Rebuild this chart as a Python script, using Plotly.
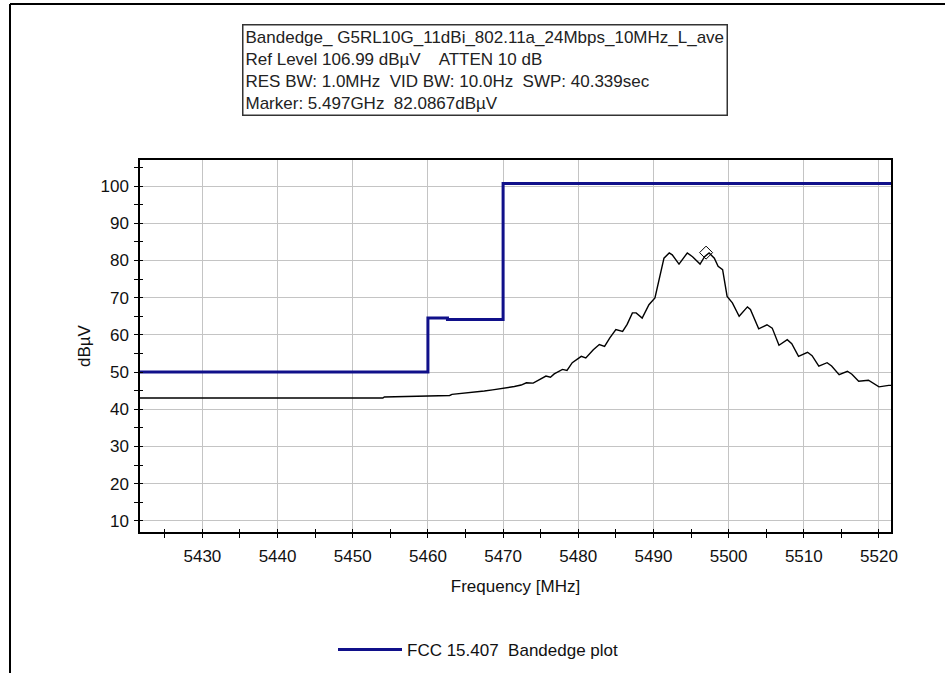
import plotly.graph_objects as go

# ---- data ----
limit_freq = [5421.7, 5460.0, 5460.0, 5462.6, 5462.6, 5470.0, 5470.0, 5521.6]
limit_level = [50.0, 50.0, 64.5, 64.5, 64.1, 64.1, 100.7, 100.7]

trace_freq = [5421.7, 5454.0, 5454.2, 5456.2, 5459.3, 5459.5, 5462.9, 5463.2, 5465.1,
              5466.3, 5467.5, 5468.6, 5470.0, 5471.0, 5471.5, 5472.4, 5473.1, 5474.0,
              5474.5, 5475.7, 5476.3, 5476.8, 5477.9, 5478.5,
              5479.2, 5480.4, 5481.0, 5482.0, 5482.8, 5483.5, 5484.2, 5485.0, 5485.9,
              5486.5, 5487.2, 5487.7,
              5488.5, 5489.4, 5490.2, 5490.8, 5491.4, 5492.1, 5492.5, 5493.4, 5494.5,
              5495.2, 5496.2, 5496.8, 5497.4, 5498.1, 5498.6, 5499.2, 5499.8, 5500.5,
              5501.4, 5502.5, 5502.9, 5504.0, 5505.1, 5505.8, 5506.7, 5507.8, 5508.4,
              5509.3, 5510.5, 5511.1, 5512.0, 5513.1, 5513.7, 5514.7, 5515.8, 5516.4,
              5517.3, 5518.6, 5519.2, 5520.0, 5521.3, 5521.6]
trace_level = [43.0, 43.0, 43.3, 43.4, 43.6, 43.7, 43.7, 44.0, 44.4,
               44.5, 44.9, 45.2, 45.6, 45.9, 46.1, 46.5, 47.1, 47.0,
               47.6, 48.9, 48.6, 49.5, 50.7, 50.4,
               52.5, 54.2, 53.8, 56.0, 57.4, 56.9, 59.2, 61.4, 60.9,
               62.8, 65.9, 65.9,
               64.5, 68.1, 69.9, 75.7, 80.6, 82.0, 81.5, 79.0, 82.0,
               81.0, 79.0, 81.0, 82.0, 80.6, 78.4, 77.5, 70.3, 68.6,
               65.0, 67.5, 66.8, 61.6, 62.7, 61.8, 57.2, 58.7, 57.6,
               54.2, 55.3, 54.4, 51.6, 52.5, 51.6, 49.3, 50.2, 49.4,
               47.5, 47.8, 47.0, 46.0, 46.4, 46.4]

marker_freq = [5497.0]
marker_level = [82.0867]

x_tickvals = [5430, 5440, 5450, 5460, 5470, 5480, 5490, 5500, 5510, 5520]
y_tickvals = [10, 20, 30, 40, 50, 60, 70, 80, 90, 100]

info_lines = [
    "Bandedge_ G5RL10G_11dBi_802.11a_24Mbps_10MHz_L_ave",
    "Ref Level 106.99 dBµV    ATTEN 10 dB",
    "RES BW: 1.0MHz  VID BW: 10.0Hz  SWP: 40.339sec",
    "Marker: 5.497GHz  82.0867dBµV",
]

FONT = "Arial, Liberation Sans, sans-serif"
FS = 17
BLUE = "#10108a"

fig = go.Figure()
fig.add_trace(go.Scatter(x=trace_freq, y=trace_level, mode="lines",
                         line=dict(color="black", width=1.4), showlegend=False,
                         hoverinfo="skip"))
fig.add_trace(go.Scatter(x=limit_freq, y=limit_level, mode="lines",
                         line=dict(color=BLUE, width=3),
                         name="FCC 15.407  Bandedge plot"))
fig.add_trace(go.Scatter(x=marker_freq, y=marker_level, mode="markers",
                         marker=dict(symbol="diamond-open", size=10, color="black",
                                     line=dict(width=1, color="black")),
                         showlegend=False))
# overlay axes used only for inner half of crossing ticks
fig.add_trace(go.Scatter(x=[5421.7], y=[50], xaxis="x2", yaxis="y2", mode="markers",
                         marker=dict(opacity=0), showlegend=False, hoverinfo="skip"))

xr = [5421.7, 5521.6]
yr = [6.99, 106.99]

common_axis = dict(showline=True, linecolor="black", linewidth=1.5, mirror=True,
                   ticks="outside", ticklen=4, tickwidth=1, tickcolor="black",
                   tickfont=dict(family=FONT, size=FS, color="#111111"),
                   showgrid=True, gridcolor="#c4c4c4", gridwidth=1, zeroline=False,
                   automargin=False)

fig.update_layout(
    width=945, height=673,
    margin=dict(l=140, r=54, t=160, b=141, autoexpand=False),
    paper_bgcolor="white", plot_bgcolor="white",
    font=dict(family=FONT, size=FS, color="#111111"),
    xaxis=dict(range=xr, tickvals=x_tickvals, ticklabelstandoff=4,
               minor=dict(dtick=5, tick0=5420, ticks="outside", ticklen=4,
                          tickcolor="black", showgrid=False),
               title=dict(text="Frequency [MHz]", font=dict(size=FS), standoff=15),
               **common_axis),
    yaxis=dict(range=yr, tickvals=y_tickvals, ticklabelstandoff=2,
               minor=dict(dtick=5, tick0=0, ticks="outside", ticklen=4,
                          tickcolor="black", showgrid=False),
               title=dict(text="dBµV", font=dict(size=FS), standoff=6),
               **common_axis),
    xaxis2=dict(range=xr, overlaying="x", dtick=5, tick0=5420, ticks="inside",
                ticklen=3, tickcolor="black", showticklabels=False, showgrid=False,
                zeroline=False, showline=False, side="bottom", automargin=False),
    yaxis2=dict(range=yr, overlaying="y", dtick=5, tick0=0, ticks="inside",
                ticklen=3, tickcolor="black", showticklabels=False, showgrid=False,
                zeroline=False, showline=False, side="left", automargin=False),
    showlegend=True,
    legend=dict(orientation="h", x=(333 - 140) / 751, xanchor="left",
                y=(532 - 632) / 372, yanchor="top", itemwidth=64,
                font=dict(family=FONT, size=FS), bgcolor="rgba(0,0,0,0)"),
    annotations=[dict(
        text="<br>".join(info_lines), xref="paper", yref="paper",
        x=(242 - 140) / 751, y=(532 - 24) / 372, xanchor="left", yanchor="top",
        showarrow=False, align="left", bordercolor="#333333", borderwidth=1.5,
        borderpad=2, bgcolor="white",
        font=dict(family=FONT, size=FS, color="#222222"))],
    shapes=[
        dict(type="line", xref="paper", yref="paper", x0=(10 - 140) / 751, x1=(945 - 140) / 751,
             y0=(532 - 4) / 372, y1=(532 - 4) / 372, line=dict(color="black", width=2)),
        dict(type="line", xref="paper", yref="paper", x0=(10 - 140) / 751, x1=(10 - 140) / 751,
             y0=(532 - 4) / 372, y1=(532 - 700) / 372, line=dict(color="black", width=2)),
    ],
)

fig.write_html("out.html", config={"displayModeBar": False},
               post_script="document.body.style.margin='0';")
